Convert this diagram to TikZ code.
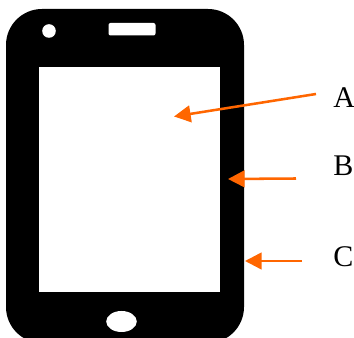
\documentclass[tikz,border=0pt]{standalone}
\usepackage{fontspec}
\setmainfont{Liberation Serif}
\usetikzlibrary{arrows.meta}
\definecolor{arrowc}{HTML}{FF6600}
\tikzset{
  hole/.style={fill=white,draw=none},
  lab/.style={inner sep=0pt,anchor=west,font=\fontsize{22.5pt}{22.5pt}\selectfont},
  pointer/.style={draw=arrowc,line width=1.9pt,-{Triangle[length=12.5pt,width=12.5pt,fill=arrowc]},shorten >=0pt}
}
\begin{document}
\begin{tikzpicture}[x=0.75pt,y=-0.75pt]
\useasboundingbox (0,0) rectangle (354,338);
\fill[white] (0,0) rectangle (354,338);
\begin{scope}
\clip (0,0) rectangle (354,338);
\fill[black,rounded corners=27pt] (6,9) rectangle (244,343);
\end{scope}
\fill[hole] (38.5,67) rectangle (219.5,292);
\fill[hole] (49,31) circle [radius=6.8];
\fill[hole,rounded corners=1.5pt] (108.5,23) rectangle (155.5,35.5);
\fill[hole] (121.5,321.5) ellipse [x radius=15.3,y radius=10.5];
\node[lab] (la) at (333,98) {A};
\node[lab] (lb) at (333,166) {B};
\node[lab] (lc) at (333,257) {C};
\coordinate (sa) at (316,94);
\coordinate (ta) at (174,116.5);
\coordinate (sb) at (296,178.5);
\coordinate (tb) at (228,179);
\coordinate (sc) at (302,261);
\coordinate (tc) at (245,261);
\draw[pointer] (sa) -- (ta);
\draw[pointer] (sb) -- (tb);
\draw[pointer] (sc) -- (tc);
\end{tikzpicture}
\end{document}
